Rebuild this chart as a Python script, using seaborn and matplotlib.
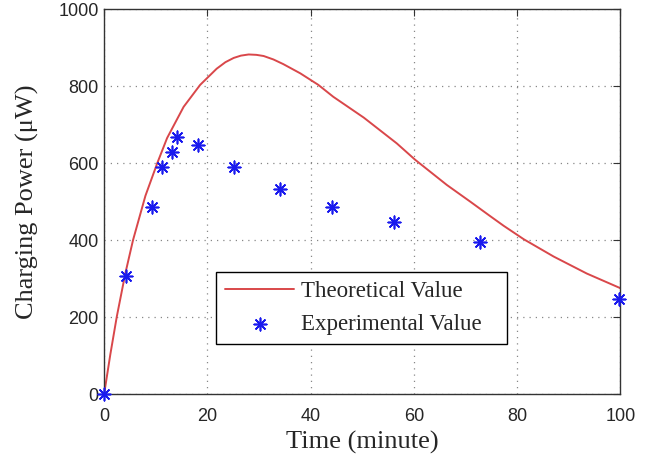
import matplotlib
matplotlib.use("Agg")
import matplotlib.pyplot as plt
import seaborn as sns
import pandas as pd

theory_time = [0, 1.2, 2.45, 4.1, 5.6, 8.0, 10.3, 12.2, 15.4, 18.6, 21.8, 23.5, 25.1, 26.5, 28.0,
               29.5, 30.9, 32.8, 34.7, 38.0, 41.5, 44.4, 50.3, 56.7, 60.3, 66.4, 70.9, 74.8,
               77.4, 81.3, 87.1, 93.5, 100]
theory_power = [0, 103, 201, 313, 400, 515, 600, 665, 746, 803, 845, 862, 873, 879, 882,
                881, 878, 869, 857, 833, 803, 772, 718, 651, 608, 543, 500, 462,
                437, 402, 357, 313, 275]

exp_time = [0, 4.3, 9.2, 11.2, 13.1, 14.2, 18.2, 25.2, 34.1, 44.1, 56.1, 72.9, 99.8]
exp_power = [0, 306, 487, 590, 629, 667, 648, 589, 532, 485, 448, 396, 246]

xticks = [0, 20, 40, 60, 80, 100]
yticks = [0, 200, 400, 600, 800, 1000]

sns.set_style("white")

df_t = pd.DataFrame({"t": theory_time, "p": theory_power})
df_e = pd.DataFrame({"t": exp_time, "p": exp_power})

fig = plt.figure(figsize=(6.55, 4.59), dpi=100)
ax = fig.add_axes([0.159, 0.1416, 0.788, 0.8387])

sns.lineplot(data=df_t, x="t", y="p", ax=ax, color="#d9474a", linewidth=1.4,
             label="Theoretical Value", sort=False)
sns.scatterplot(data=df_e, x="t", y="p", ax=ax, color="#1a1aee", marker=(8, 2, 0),
                s=80, linewidth=1.2, edgecolor="#1a1aee", label="Experimental Value",
                zorder=5, clip_on=False)

ax.set_xlim(0, 100)
ax.set_ylim(0, 1000)
ax.set_xticks(xticks)
ax.set_yticks(yticks)
ax.set_xticklabels([str(v) for v in xticks], fontfamily="Liberation Sans", fontsize=13)
ax.set_yticklabels([str(v) for v in yticks], fontfamily="Liberation Sans", fontsize=13)
ax.tick_params(direction="in", top=True, right=True, length=5, width=0.8, color="#333333")
ax.tick_params(axis="x", pad=10)
ax.tick_params(axis="y", pad=4)
ax.grid(True, linestyle=(0, (1, 4)), color="#888888", linewidth=0.9)

for sp in ax.spines.values():
    sp.set_color("#333333")
    sp.set_linewidth(1.0)

ax.set_xlabel("Time (minute)", fontfamily="Liberation Serif", fontsize=19, labelpad=4)
ax.set_ylabel("Charging Power (μW)", fontfamily="Liberation Serif", fontsize=19, labelpad=14)

leg = ax.legend(loc="lower left", bbox_to_anchor=((216 - 104) / 516, (394 - 344) / 385,
                                                   (507 - 216) / 516, (344 - 273) / 385),
                mode="expand", frameon=True, fancybox=False, framealpha=1,
                edgecolor="black", prop={"family": "Liberation Serif", "size": 16.5},
                borderpad=0.4, handlelength=3.0, labelspacing=0.5, handletextpad=0.3,
                borderaxespad=0)
leg.get_frame().set_linewidth(1.0)

fig.savefig("out.png", dpi=100)
